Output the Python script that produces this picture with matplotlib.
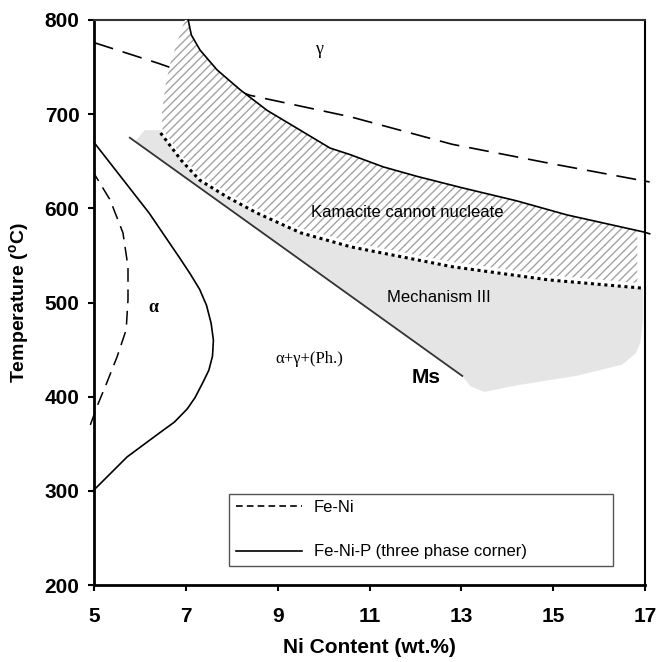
import numpy as np
import matplotlib.pyplot as plt
from matplotlib.lines import Line2D

plt.rcParams['font.family'] = ['Liberation Sans', 'DejaVu Sans']
plt.rcParams['hatch.linewidth'] = 1.0

# Fe-Ni (dashed) boundaries
feni_top_x = [5.0, 6.4, 8.4, 10.6, 12.8, 14.9, 17.1]
feni_top_t = [776, 754, 720, 697, 668, 648, 628]
feni_low_x = [4.92, 5.06, 5.28, 5.5, 5.7, 5.74, 5.74, 5.63, 5.35, 5.0]
feni_low_t = [370, 389, 415, 442, 471, 503, 538, 574, 609, 637]

# Fe-Ni-P (three phase corner), solid
fenip_gamma_x = [7.05, 7.12, 7.31, 7.68, 8.18, 8.77, 9.49, 10.14, 10.58, 11.3, 12.03, 13.0, 14.2, 15.3, 16.96, 17.1]
fenip_gamma_t = [800, 784, 768, 747, 726, 704, 683, 664, 657, 644, 634, 622, 608, 593, 575, 573]
fenip_alpha_x = [5.0, 6.2, 6.87, 7.1, 7.3, 7.45, 7.55, 7.6, 7.58, 7.5, 7.37, 7.2, 7.03, 6.75, 6.44, 5.72, 5.0]
fenip_alpha_t = [670, 595, 547, 530, 514, 497, 478, 460, 443, 428, 415, 399, 387, 373, 362, 336, 301]

# dotted limit of the "Kamacite cannot nucleate" band
dotted_x = np.array([6.45, 6.9, 7.3, 7.9, 8.55, 9.5, 10.6, 12.8, 14.9, 17.0])
dotted_t = np.array([680, 651, 630, 612, 595, 574, 559, 538, 524, 515])

# left edge of the hatched band
hatch_left_x = [6.48, 6.48, 6.55, 6.66, 6.83, 6.98]
hatch_left_t = [685, 701, 729, 754, 779, 800]

# Ms line
ms_x = [5.78, 13.02]
ms_t = [675, 422]

# Mechanism III (grey) region
mech_x = [5.90, 6.10, 6.45, 6.90, 7.30, 7.90, 8.55, 9.50, 10.60, 12.80, 14.90, 16.95,
          16.95, 16.90, 16.80, 16.50, 15.50, 14.20, 13.50, 13.20, 13.02]
mech_t = [671, 683, 683, 654, 633, 615, 598, 577, 562, 541, 527, 516,
          480, 458, 446, 434, 422, 412, 405, 411, 422]

fig = plt.figure(figsize=(6.57, 6.62), dpi=100)
ax = fig.add_axes([0.1431, 0.1163, 0.8387, 0.8535])

ax.fill(mech_x, mech_t, color='#e5e5e5', lw=0, zorder=1)
ax.fill_between(dotted_x, dotted_t, dotted_t + 5, color='white', lw=0, zorder=2)

# hatched band polygon built from the curves above
gx = np.array(fenip_gamma_x)
gt = np.array(fenip_gamma_t)
m = gx <= 16.83
xr = 16.83
sel = (dotted_x > 6.48) & (dotted_x < xr)
poly_x = np.concatenate([hatch_left_x, gx[m], [xr, xr], dotted_x[sel][::-1]])
poly_t = np.concatenate([hatch_left_t, gt[m], [np.interp(xr, gx, gt), np.interp(xr, dotted_x, dotted_t) + 5],
                         dotted_t[sel][::-1] + 5])

ax.plot(feni_top_x, feni_top_t, color='black', lw=1.2, ls=(0, (12, 6)), zorder=2, clip_on=False)
ax.fill(poly_x, poly_t, facecolor='white', edgecolor='#a3a3a3', hatch='////', lw=0, zorder=3)

ax.plot(feni_low_x, feni_low_t, color='black', lw=1.1, ls=(0, (9, 5)), zorder=4, clip_on=False)
ax.plot(fenip_gamma_x, fenip_gamma_t, color='black', lw=1.2, zorder=4, clip_on=False)
ax.plot(fenip_alpha_x, fenip_alpha_t, color='black', lw=1.2, zorder=4, clip_on=False)
ax.plot(dotted_x, dotted_t, color='black', lw=2.2, ls=(0, (1, 1.2)), zorder=4)
ax.plot(ms_x, ms_t, color='#333333', lw=1.3, zorder=4)

serif = ['Liberation Serif', 'DejaVu Serif']
ax.text(9.9, 769, 'γ', family=serif, fontsize=13, ha='center', va='center')
ax.text(6.29, 495, 'α', family=serif, fontsize=13, fontweight='bold', ha='center', va='center')
ax.text(9.68, 440, 'α+γ+(Ph.)', family=serif, fontsize=12, ha='center', va='center')
ax.text(12.23, 420, 'Ms', fontsize=15, fontweight='bold', ha='center', va='center')
ax.text(11.83, 596, 'Kamacite cannot nucleate', fontsize=12, ha='center', va='center', zorder=5)
ax.text(12.52, 505, 'Mechanism III', fontsize=12, ha='center', va='center', zorder=5)

handles = [Line2D([], [], color='black', lw=1.2, ls=(0, (4, 2.5))),
           Line2D([], [], color='black', lw=1.2)]
leg = ax.legend(handles, ['Fe-Ni', 'Fe-Ni-P (three phase corner)'], loc='lower left',
                bbox_to_anchor=(0.245, 0.0336, 0.697, 0.127), mode='expand', borderaxespad=0,
                fancybox=False, edgecolor='#555555', framealpha=1, fontsize=12,
                handlelength=4.0, handletextpad=0.7, labelspacing=1.75, borderpad=0.4)
leg.get_frame().set_linewidth(1.0)

ax.set_xlim(5, 17)
ax.set_ylim(200, 800)
ax.set_xticks(range(5, 18, 2))
ax.set_yticks(range(200, 801, 100))
ax.tick_params(direction='out', length=4.5, width=1.5, labelsize=15, pad=6)
ax.tick_params(axis='x', pad=11)
for lab in ax.get_xticklabels() + ax.get_yticklabels():
    lab.set_fontweight('bold')

ax.set_xlabel('Ni Content (wt.%)', fontsize=15, fontweight='bold', labelpad=9)
ax.set_ylabel(r'Temperature ($^{\mathregular{o}}$C)', fontsize=14, fontweight='bold', labelpad=9)

ax.spines['left'].set_linewidth(2)
ax.spines['bottom'].set_linewidth(2)
ax.spines['top'].set_linewidth(1.5)
ax.spines['top'].set_color('#333333')
ax.spines['right'].set_linewidth(1.5)

fig.savefig('out.png', dpi=100)
